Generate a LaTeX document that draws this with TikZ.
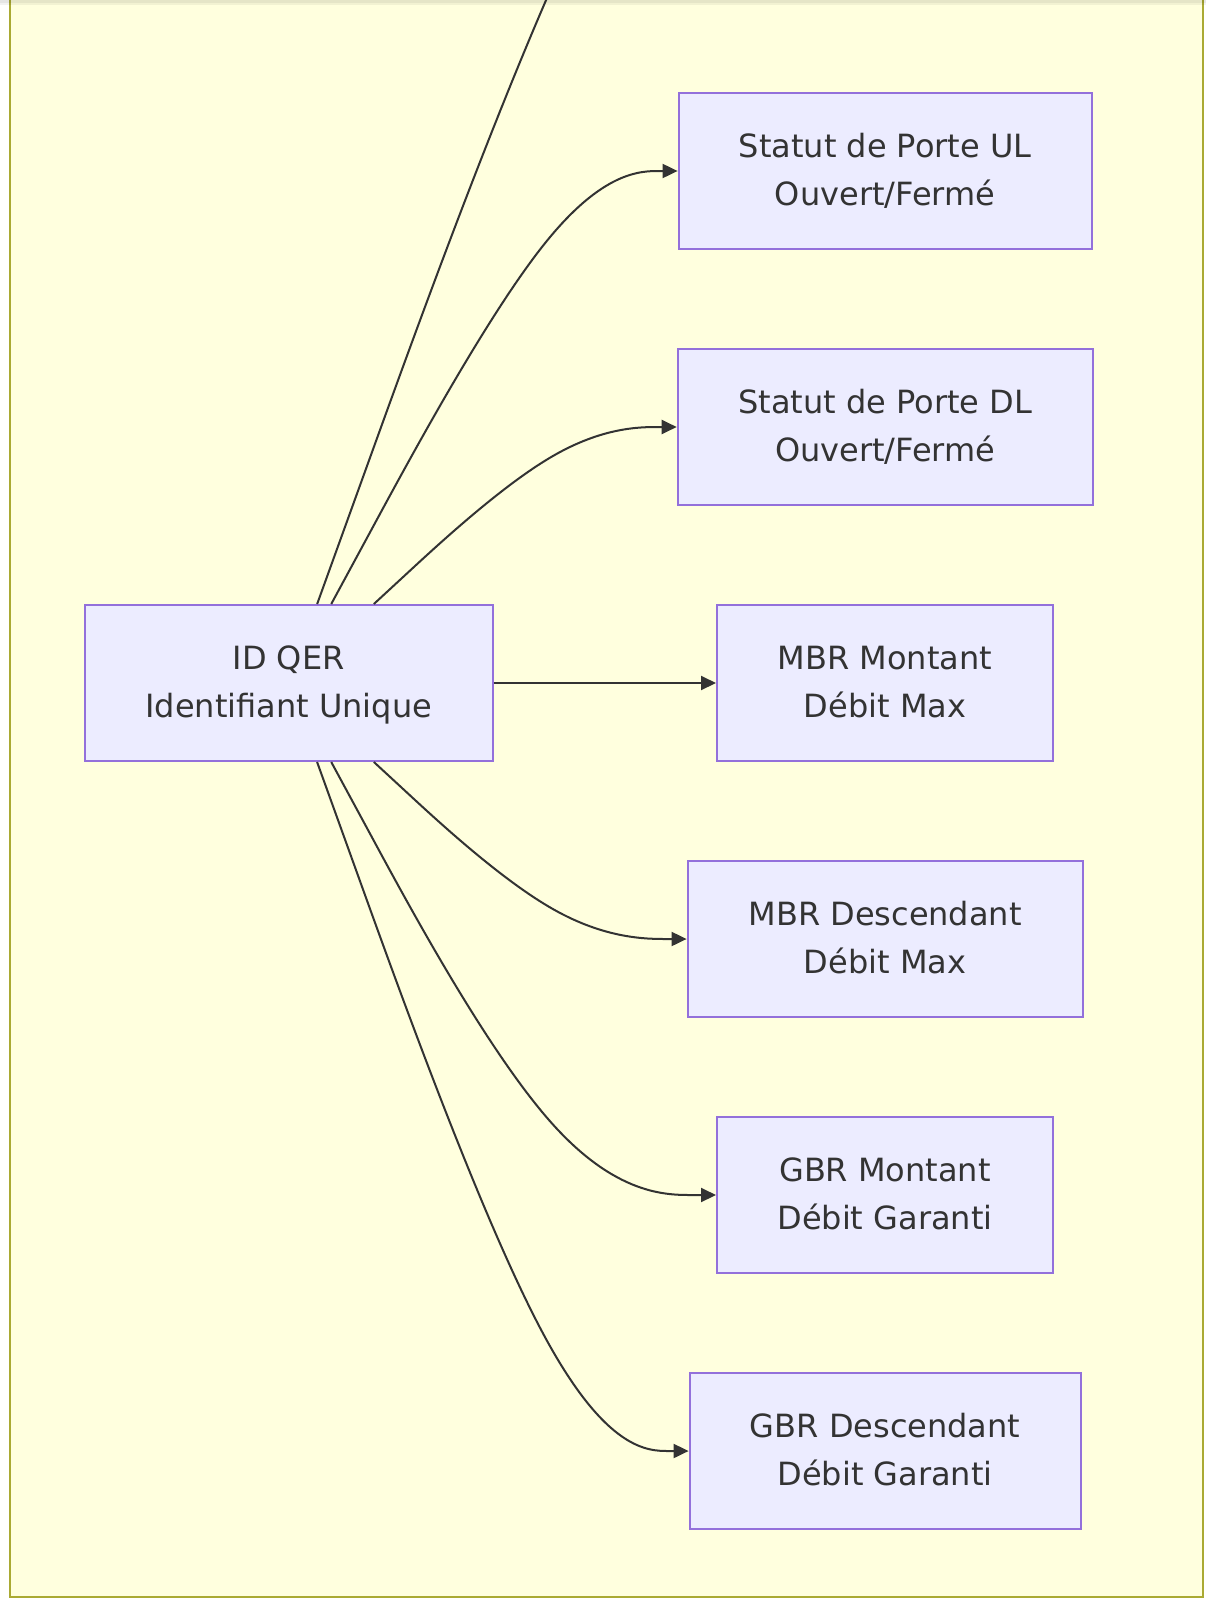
\documentclass[tikz,border=0pt]{standalone}
\usepackage{fontspec}
\setmainfont{DejaVu Sans}
\usetikzlibrary{arrows.meta}

\definecolor{clusterfill}{HTML}{FFFFDE}
\definecolor{clusterline}{HTML}{AAAA33}
\definecolor{boxfill}{HTML}{ECECFF}
\definecolor{boxline}{HTML}{9370DB}
\definecolor{ink}{HTML}{333333}

% one text line: 48pt tall, baseline 34.6pt below its top
\newcommand\lstrut{\rule[-13.4pt]{0pt}{48pt}}

% B-spline style connector: source node, start (x0,y0), bend (x1,y1), end (x2,y2), target
\newcommand\basisedge[8]{%
  \draw[link] (#1) -- ({(5*#2+#4)/6},{(5*#3+#5)/6})
    .. controls ({(2*#2+#4)/3},{(2*#3+#5)/3}) and ({(#2+2*#4)/3},{(#3+2*#5)/3})
    .. ({(#2+4*#4+#6)/6},{(#3+4*#5+#7)/6})
    .. controls ({(2*#4+#6)/3},{(2*#5+#7)/3}) and ({(#4+2*#6)/3},{(#5+2*#7)/3})
    .. ({(#4+5*#6)/6},{(#5+5*#7)/6}) -- (#8);%
}

\tikzset{
  field/.style={draw=boxline, fill=boxfill, line width=2pt, minimum height=156pt,
    inner sep=0pt, align=center, text=ink,
    font=\fontsize{32pt}{48pt}\selectfont},
  link/.style={draw=ink, line width=2pt, -{Triangle[length=15pt,width=14pt]}},
}

\begin{document}
\begin{tikzpicture}[x=1pt,y=-1pt]
\useasboundingbox (0,0) rectangle (1206,1600);
\fill[white] (0,0) rectangle (1206,1600);
\begin{scope}
\clip (0,0) rectangle (1206,1600);

% group frame
\draw[draw=clusterline, fill=clusterfill, line width=2pt] (10,-40) rectangle (1203,1597);

% fields
\node[field, minimum width=408pt] (qer)  at (288.7,683)  {\lstrut ID QER\\\lstrut Identifiant Unique};
\node[field, minimum width=413pt] (ul)   at (885.1,171)  {\lstrut Statut de Porte UL\\\lstrut Ouvert/Fermé};
\node[field, minimum width=415pt] (dl)   at (885.2,427)  {\lstrut Statut de Porte DL\\\lstrut Ouvert/Fermé};
\node[field, minimum width=336pt] (mbrm) at (885,683)    {\lstrut MBR Montant\\\lstrut Débit Max};
\node[field, minimum width=395pt] (mbrd) at (885.1,939)  {\lstrut MBR Descendant\\\lstrut Débit Max};
\node[field, minimum width=336pt] (gbrm) at (885,1195)   {\lstrut GBR Montant\\\lstrut Débit Garanti};
\node[field, minimum width=391pt] (gbrd) at (885.1,1451) {\lstrut GBR Descendant\\\lstrut Débit Garanti};
\coordinate (upper) at (800,-290);

% connectors
\basisedge{qer}{316.8}{605}{640}{-290}{800}{-290}{upper}
\basisedge{qer}{330.8}{605}{565}{171}{678.6}{171}{ul}
\basisedge{qer}{372.9}{605}{565}{427}{677.7}{427}{dl}
\draw[link] (qer) -- (mbrm);
\basisedge{qer}{372.9}{761}{565}{939}{687.6}{939}{mbrd}
\basisedge{qer}{330.8}{761}{565}{1195}{717}{1195}{gbrm}
\basisedge{qer}{316.8}{761}{565}{1451}{689.6}{1451}{gbrd}

% soft shade along the top edge
\fill[black, opacity=0.10] (0,0) rectangle (1206,3);
\fill[black, opacity=0.05] (0,3) rectangle (1206,5);
\end{scope}
\end{tikzpicture}
\end{document}
